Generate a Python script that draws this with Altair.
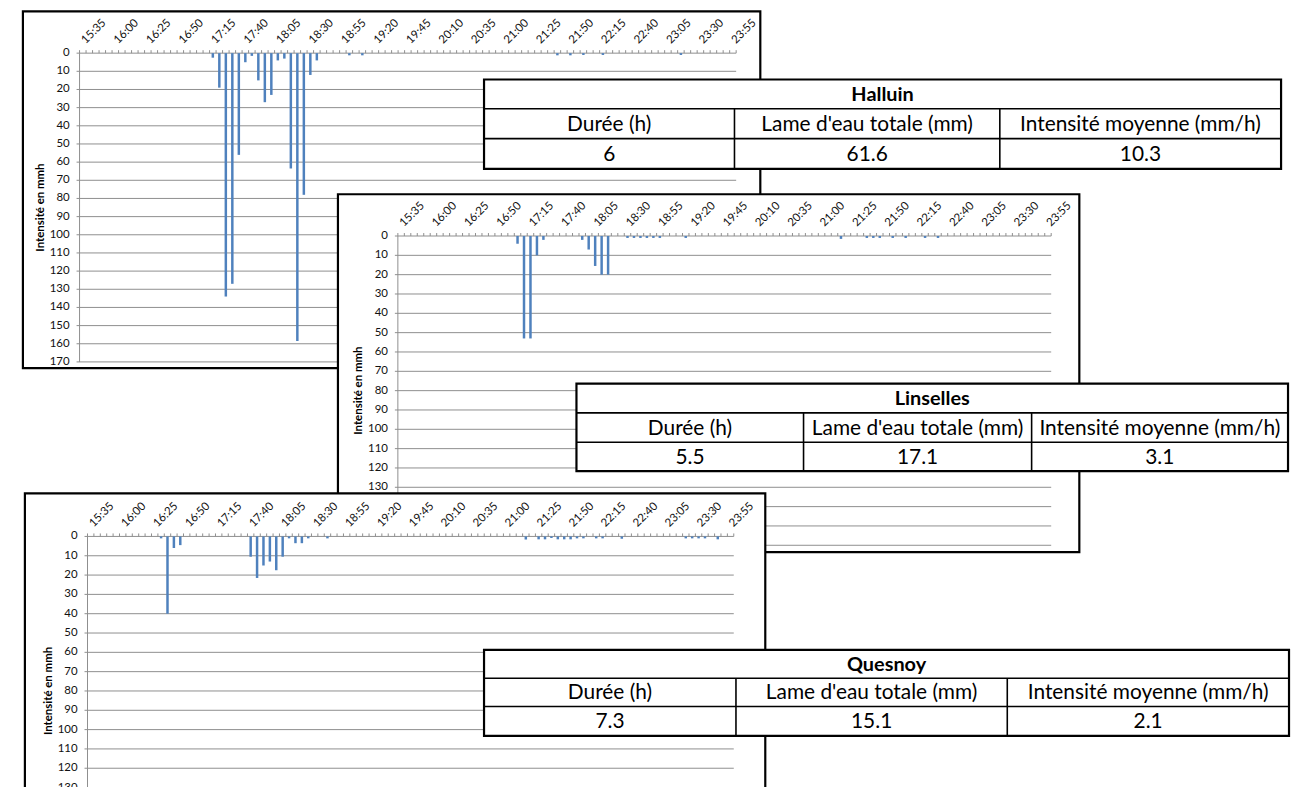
import altair as alt
import pandas as pd

# ------------------------------------------------------------------ data
x_tick_labels = ["15:35", "16:00", "16:25", "16:50", "17:15", "17:40", "18:05",
                 "18:30", "18:55", "19:20", "19:45", "20:10", "20:35", "21:00",
                 "21:25", "21:50", "22:15", "22:40", "23:05", "23:30", "23:55"]
axis_first = "15:35"
axis_last = "23:55"
step_minutes = 5

halluin_times = ["17:15", "17:20", "17:25", "17:30", "17:35", "17:40", "17:45", "17:50",
                 "17:55", "18:00", "18:05", "18:10", "18:15", "18:20", "18:25", "18:30",
                 "18:35", "19:00", "19:10", "21:40", "21:50", "22:00", "22:15", "23:15"]
halluin_values = [2.5, 19, 134, 127, 56, 5, 1.5, 15,
                  27, 23, 4, 3, 63.5, 158.5, 78, 12,
                  4, 1.2, 1.2, 1.2, 1.2, 1, 1, 1]

linselles_times = ["17:05", "17:10", "17:15", "17:20", "17:25", "17:55", "18:00", "18:05",
                   "18:10", "18:15", "18:30", "18:35", "18:40", "18:45", "18:50", "18:55",
                   "19:15", "21:15", "21:35", "21:40", "21:45", "21:55", "22:05", "22:20",
                   "22:30"]
linselles_values = [4, 53, 53, 10, 2, 2, 7, 15.5,
                    20, 20, 1, 1, 1, 1, 1, 1,
                    1, 1.5, 1, 1, 1, 1, 1, 1,
                    1]

quesnoy_times = ["16:30", "16:35", "16:40", "16:45", "17:40", "17:45", "17:50", "17:55",
                 "18:00", "18:05", "18:10", "18:15", "18:20", "18:25", "18:40", "21:15",
                 "21:25", "21:30", "21:35", "21:40", "21:45", "21:50", "21:55", "22:00",
                 "22:10", "22:15", "22:30", "23:20", "23:25", "23:30", "23:35", "23:45"]
quesnoy_values = [1, 40, 6, 4.5, 10.5, 21.5, 15, 13,
                  17.5, 10.5, 1, 3.5, 3.5, 1, 1, 1.6,
                  1.5, 1.5, 0.8, 1.5, 1.5, 1.5, 1, 1,
                  1, 1, 1.2, 1, 1, 1, 1, 1.5]

halluin_y_ticks = [0, 10, 20, 30, 40, 50, 60, 70, 80, 90, 100, 110, 120, 130, 140, 150, 160, 170]
linselles_y_ticks = [0, 10, 20, 30, 40, 50, 60, 70, 80, 90, 100, 110, 120, 130, 140, 150, 160]
quesnoy_y_ticks = [0, 10, 20, 30, 40, 50, 60, 70, 80, 90, 100, 110, 120, 130, 140, 150, 160]

y_title = "Intensité en mmh"

table_headers = ["Durée (h)", "Lame d'eau totale (mm)", "Intensité moyenne (mm/h)"]
halluin_stats = ["6", "61.6", "10.3"]
linselles_stats = ["5.5", "17.1", "3.1"]
quesnoy_stats = ["7.3", "15.1", "2.1"]

# ------------------------------------------------------------------ layout (pixels)
W, H = 1292, 779
FONT = "Lato"
BAR = "#4F81BD"
GRID = "#8E8E8E"
TXT = "#111111"

PANELS = {
    "Halluin": dict(frame=(15, 1, 757, 360), px=(67, 737.7), py=(43, 353.7)),
    "Linselles": dict(frame=(332, 185, 1078, 545), px=(387.3, 1054.7), py=(227, 538.2)),
    "Quesnoy": dict(frame=(17, 486, 762, 860), px=(75, 735.3), py=(529.3, 840.3)),
}
TABLES = {
    "Halluin": dict(box=(479, 69.5, 1281, 159.5), rows=(99, 129), cols=(731, 998)),
    "Linselles": dict(box=(572, 375.5, 1288, 463.5), rows=(405, 434.5), cols=(800.5, 1030)),
    "Quesnoy": dict(box=(479, 643.5, 1289, 730), rows=(672, 700.5), cols=(732.5, 1005.5)),
}


def to_min(t):
    h, m = t.split(":")
    return int(h) * 60 + int(m)


def slot(t):
    return (to_min(t) - to_min(axis_first)) / step_minutes


n_slots = int(slot(axis_last)) + 1
one = pd.DataFrame({"k": [0]})


def panel(times, values, yticks, L):
    ymax = yticks[-1]
    xs = alt.Scale(domain=[-0.5, n_slots - 0.5], range=list(L["px"]), nice=False, zero=False)
    ys = alt.Scale(domain=[0, ymax], range=list(L["py"]), nice=False, zero=False)

    def XD(v):
        return alt.XDatum(v, type="quantitative", scale=xs, axis=None)

    def YD(v):
        return alt.YDatum(v, type="quantitative", scale=ys, axis=None)

    fx0, fy0, fx1, fy1 = L["frame"]
    frame = alt.Chart(one).mark_rect(fill="white", stroke="black", strokeWidth=2.2).encode(
        x=alt.value(fx0), x2=alt.value(fx1), y=alt.value(fy0), y2=alt.value(fy1))

    grid_df = pd.DataFrame({"v": yticks})
    grid = alt.Chart(grid_df).mark_rule(color=GRID, strokeWidth=1, xOffset=-3).encode(
        x=XD(-0.5), x2=alt.X2Datum(n_slots - 0.5),
        y=alt.Y("v:Q", scale=ys, axis=None))

    yaxis = alt.Chart(one).mark_rule(color=GRID, strokeWidth=1).encode(
        x=XD(-0.5), y=YD(0), y2=alt.Y2Datum(ymax))

    bounds = pd.DataFrame({"b": [i - 0.5 for i in range(n_slots + 1)]})
    xticks = alt.Chart(bounds).mark_rule(color=GRID, strokeWidth=1, y2Offset=-3).encode(
        x=alt.X("b:Q", scale=xs, axis=None), y=YD(0), y2=alt.Y2Datum(0))

    bar_df = pd.DataFrame({"slot": [slot(t) for t in times], "v": values})
    bars = alt.Chart(bar_df).mark_bar(color=BAR, size=2.5).encode(
        x=alt.X("slot:Q", scale=xs, axis=None),
        y=alt.Y("v:Q", scale=ys, axis=None), y2=alt.Y2Datum(0))

    xl_df = pd.DataFrame({"slot": [slot(t) for t in x_tick_labels], "lab": x_tick_labels})
    xlabels = alt.Chart(xl_df).mark_text(align="left", baseline="alphabetic", angle=315,
                                         xOffset=3, yOffset=-9, font=FONT, fontSize=11.5,
                                         color=TXT).encode(
        x=alt.X("slot:Q", scale=xs, axis=None), y=YD(0), text="lab:N")

    ylabels = alt.Chart(grid_df).mark_text(align="right", baseline="middle", xOffset=-10,
                                           font=FONT, fontSize=11.5, color=TXT).encode(
        x=XD(-0.5), y=alt.Y("v:Q", scale=ys, axis=None), text="v:Q")

    title_df = pd.DataFrame({"t": [y_title]})
    ytitle = alt.Chart(title_df).mark_text(align="center", baseline="middle",
                                           xOffset=-39, font=FONT, fontSize=11.5,
                                           fontWeight="bold", color="black").encode(
        x=XD(-0.5), y=YD(ymax / 2), text="t:N", angle=alt.value(270))

    return alt.layer(frame, grid, yaxis, xticks, bars, xlabels, ylabels, ytitle)


def table(name, stats, L):
    x0, y0, x1, y1 = L["box"]
    r1, r2 = L["rows"]
    c1, c2 = L["cols"]
    box = alt.Chart(one).mark_rect(fill="white", stroke="black", strokeWidth=2.2).encode(
        x=alt.value(x0), x2=alt.value(x1), y=alt.value(y0), y2=alt.value(y1))
    h_df = pd.DataFrame({"x": [x0, x0], "x2": [x1, x1], "y": [r1, r2]})
    hl = alt.Chart(h_df).mark_rule(color="black", strokeWidth=1.6).encode(
        x=alt.X("x:Q", scale=None, axis=None), x2="x2:Q",
        y=alt.Y("y:Q", scale=None, axis=None))
    v_df = pd.DataFrame({"x": [c1, c2], "y": [r1, r1], "y2": [y1, y1]})
    vl = alt.Chart(v_df).mark_rule(color="black", strokeWidth=1.6).encode(
        x=alt.X("x:Q", scale=None, axis=None),
        y=alt.Y("y:Q", scale=None, axis=None), y2="y2:Q")
    t_df = pd.DataFrame({"t": [name], "x": [(x0 + x1) / 2], "y": [(y0 + r1) / 2 + 1]})
    ttl = alt.Chart(t_df).mark_text(font=FONT, fontSize=20, fontWeight="bold",
                                    baseline="middle", color="black").encode(
        x=alt.X("x:Q", scale=None, axis=None), y=alt.Y("y:Q", scale=None, axis=None),
        text="t:N")
    centers = [(x0 + c1) / 2, (c1 + c2) / 2, (c2 + x1) / 2]
    cells = pd.DataFrame({
        "t": table_headers + stats,
        "x": centers + centers,
        "y": [(r1 + r2) / 2 + 1] * 3 + [(r2 + y1) / 2 + 1] * 3,
    })
    txt = alt.Chart(cells).mark_text(font=FONT, fontSize=21, baseline="middle",
                                     color="black").encode(
        x=alt.X("x:Q", scale=None, axis=None), y=alt.Y("y:Q", scale=None, axis=None),
        text="t:N")
    return alt.layer(box, hl, vl, ttl, txt)


chart = alt.layer(
    panel(halluin_times, halluin_values, halluin_y_ticks, PANELS["Halluin"]),
    table("Halluin", halluin_stats, TABLES["Halluin"]),
    panel(linselles_times, linselles_values, linselles_y_ticks, PANELS["Linselles"]),
    table("Linselles", linselles_stats, TABLES["Linselles"]),
    panel(quesnoy_times, quesnoy_values, quesnoy_y_ticks, PANELS["Quesnoy"]),
    table("Quesnoy", quesnoy_stats, TABLES["Quesnoy"]),
).resolve_scale(x="independent", y="independent").properties(
    width=W, height=H, padding=0,
    autosize=alt.AutoSizeParams(type="none"), background="white",
).configure_view(stroke=None)

chart.save("out.html", embed_options={"renderer": "svg", "actions": False})
